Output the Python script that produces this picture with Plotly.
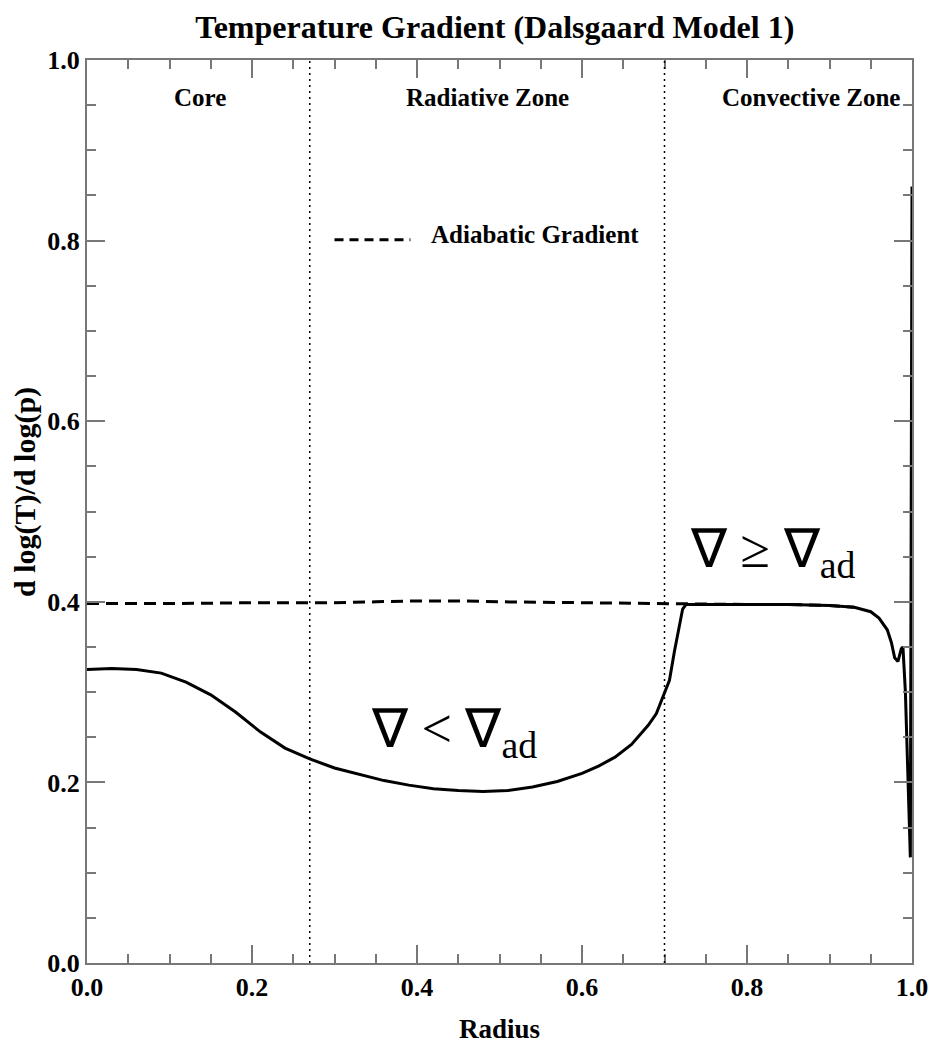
import plotly.graph_objects as go

# ---- data ----
radius = [0.0, 0.03, 0.06, 0.09, 0.12, 0.15, 0.18, 0.21, 0.24, 0.27, 0.30, 0.33, 0.36, 0.39,
          0.42, 0.45, 0.48, 0.51, 0.54, 0.57, 0.60, 0.62, 0.64, 0.66, 0.68, 0.69, 0.70, 0.706,
          0.712, 0.718, 0.722, 0.726, 0.75, 0.80, 0.85, 0.90, 0.93, 0.95, 0.96, 0.97, 0.975,
          0.979, 0.983, 0.987, 0.989, 0.992, 0.995, 0.998, 1.0]
nabla = [0.325, 0.326, 0.325, 0.321, 0.311, 0.297, 0.278, 0.256, 0.238, 0.226, 0.216, 0.209,
         0.202, 0.197, 0.193, 0.191, 0.190, 0.191, 0.195, 0.201, 0.210, 0.218, 0.228, 0.242,
         0.263, 0.276, 0.298, 0.313, 0.345, 0.375, 0.392, 0.397, 0.397, 0.397, 0.397, 0.396,
         0.394, 0.389, 0.382, 0.369, 0.355, 0.338, 0.334, 0.348, 0.350, 0.300, 0.220, 0.117, 0.86]

radius_ad = [0.0, 0.1, 0.2, 0.3, 0.35, 0.4, 0.45, 0.5, 0.6, 0.7, 0.726, 0.75, 0.80, 0.85, 0.90, 0.93]
nabla_ad = [0.398, 0.398, 0.399, 0.399, 0.400, 0.401, 0.401, 0.400, 0.399, 0.398, 0.397, 0.397,
            0.397, 0.397, 0.396, 0.394]

zone_bounds = [0.27, 0.70]
zone_names = ["Core", "Radiative Zone", "Convective Zone"]
zone_centers = [0.137, 0.485, 0.878]

x_ticks = [0.0, 0.2, 0.4, 0.6, 0.8, 1.0]
y_ticks = [0.0, 0.2, 0.4, 0.6, 0.8, 1.0]

title_text = "Temperature Gradient (Dalsgaard Model 1)"
legend_text = "Adiabatic Gradient"

SERIF = "Liberation Serif, Times New Roman, serif"

fig = go.Figure()

fig.add_trace(go.Scatter(x=radius_ad, y=nabla_ad, mode="lines",
                         line=dict(color="black", width=3, dash="12px,7px"),
                         showlegend=False, hoverinfo="skip"))
fig.add_trace(go.Scatter(x=radius, y=nabla, mode="lines",
                         line=dict(color="black", width=3),
                         showlegend=False, hoverinfo="skip"))

for b in zone_bounds:
    fig.add_shape(type="line", xref="x", yref="paper", x0=b, x1=b, y0=0, y1=1,
                  line=dict(color="black", width=1.5, dash="2px,4px"))

for name, c in zip(zone_names, zone_centers):
    fig.add_annotation(x=c, y=0.959, xref="x", yref="paper", text=f"<b>{name}</b>",
                       showarrow=False, font=dict(family=SERIF, size=25, color="black"),
                       xanchor="center", yanchor="middle")

# legend sample
fig.add_shape(type="line", xref="x", yref="y", x0=0.30, x1=0.392, y0=0.801, y1=0.801,
              line=dict(color="black", width=3, dash="9px,6px"))
fig.add_annotation(x=0.415, y=0.807, xref="x", yref="y", text=f"<b>{legend_text}</b>",
                   showarrow=False, font=dict(family=SERIF, size=25, color="black"),
                   xanchor="left", yanchor="middle")

# nabla annotations
fig.add_annotation(x=0.342, y=0.255, xref="x", yref="y", text="∇ &lt; ∇<sub>ad</sub>",
                   showarrow=False, font=dict(family=SERIF, size=54, color="black"),
                   xanchor="left", yanchor="middle")
fig.add_annotation(x=0.728, y=0.455, xref="x", yref="y", text="∇ ≥ ∇<sub>ad</sub>",
                   showarrow=False, font=dict(family=SERIF, size=54, color="black"),
                   xanchor="left", yanchor="middle")

# y axis title
fig.add_annotation(x=-0.076, y=0.522, xref="paper", yref="paper", text="<b>d log(T)/d log(p)</b>",
                   showarrow=False, textangle=-90,
                   font=dict(family=SERIF, size=30, color="black"),
                   xanchor="center", yanchor="middle")

axis_common = dict(
    range=[0, 1], showgrid=False, zeroline=False, showline=True, automargin=False,
    linecolor="#777777", linewidth=2, mirror="ticks",
    ticks="inside", ticklen=18, tickwidth=1.5, tickcolor="#777777",
    tickformat=".1f",
    tickfont=dict(family=SERIF, size=26, color="black", weight="bold"),
    minor=dict(ticks="inside", ticklen=9, tickwidth=1.5, tickcolor="#777777", dtick=0.05),
)

fig.update_xaxes(**axis_common, tickvals=x_ticks,
                 title=dict(text="<b>Radius</b>", font=dict(family=SERIF, size=27, color="black"),
                            standoff=18))
fig.update_yaxes(**axis_common, tickvals=y_ticks)

fig.update_layout(
    width=930, height=1052,
    margin=dict(l=87, r=18, t=60, b=89),
    paper_bgcolor="white", plot_bgcolor="white",
    title=dict(text=f"<b>{title_text}</b>", x=0.532, xanchor="center", y=0.975, yanchor="middle",
               font=dict(family=SERIF, size=32, color="black")),
)

fig.write_html("out.html", config={"displayModeBar": False},
               post_script="document.body.style.margin='0';")
